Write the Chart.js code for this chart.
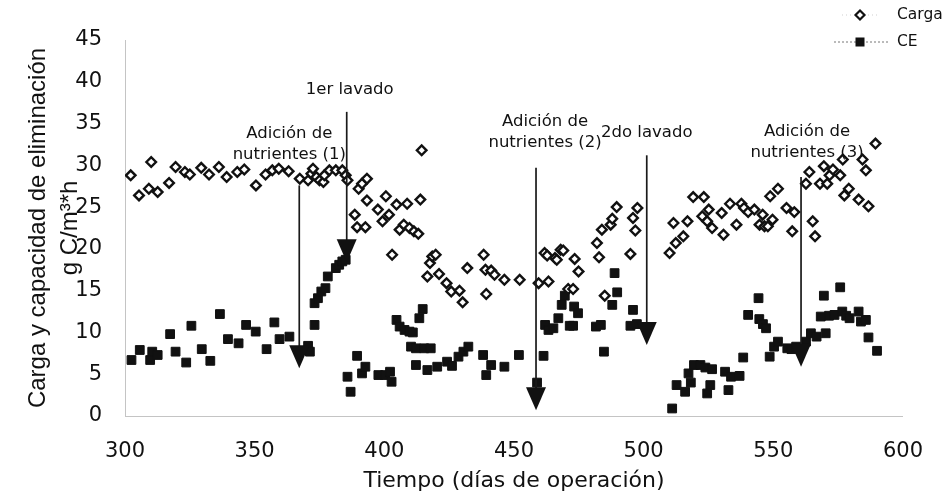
<!DOCTYPE html>
<html lang="es">
<head>
<meta charset="UTF-8">
<title>Carga y capacidad de eliminación</title>
<script src="https://cdn.jsdelivr.net/npm/chart.js@4"></script>
<style>
  html, body { margin: 0; padding: 0; background: #fff; }
  #wrap { width: 946px; height: 495px; }
</style>
</head>
<body>
<div id="wrap"><canvas id="grafico" width="946" height="495"></canvas></div>
<script>
// Carga (g C/m3*h) por día de operación
const cargaDias = [302.2,305.4,309.2,310.1,312.6,317,319.5,323.1,325,329.4,
  332.4,336.2,339.2,343.3,346,350.5,354.2,356.8,359.3,363.1,
  367.4,370.6,371.9,372.5,373.8,375,376.5,376.9,378.8,381.3,
  383.8,385.1,385.8,388.6,389.5,390.1,391.4,392.7,393.3,393.3,
  397.5,399.3,400.6,401.8,403,404.7,405.9,407.5,408.8,409.7,
  411.4,413.1,413.9,414.4,416.6,417.6,418.5,419.8,421.1,424,
  425.8,429,430.2,432,438.3,439,439.3,441.2,442.5,446.3,
  452.2,459.5,461.8,462.8,463.3,465.8,466.5,468,469,470.9,
  472.8,473.4,474.9,482,482.8,483.9,485,487.3,487.9,489.6,
  494.9,495.9,496.8,497.6,510,511.5,512.4,515.3,516.9,519.1,
  522.6,523.2,524.5,525.1,526.4,530.1,530.8,533.3,535.8,537.7,
  538.7,540.3,542.7,544.7,545.9,546.6,547.9,548.8,549.7,551.8,
  555.1,557.3,558.1,562.6,563.9,565.2,566.1,568,569.5,570.8,
  571.7,573,575.8,576.8,577.4,579.1,582.9,584.4,585.7,586.7,
  589.4];
const cargaValores = [28.8,26.4,27.2,30.4,26.8,27.9,29.8,29.2,28.9,29.7,
  28.9,29.8,28.6,29.2,29.5,27.6,28.9,29.4,29.6,29.3,
  28.4,28.2,29.0,29.6,28.6,28.2,28.0,28.8,29.4,29.4,
  29.4,28.8,28.2,24.1,22.6,27.2,27.8,22.6,28.4,25.8,
  24.7,23.3,26.3,24.1,19.3,25.3,22.3,22.9,25.4,22.5,
  22.1,21.8,25.9,31.8,16.7,18.3,19.1,19.3,17.0,15.9,
  14.9,15.0,13.6,17.7,19.3,17.5,14.6,17.4,16.9,16.3,
  16.3,15.9,19.5,19.2,16.1,18.9,18.7,19.9,19.8,15.2,
  15.2,18.8,17.3,20.7,19.0,22.3,14.4,22.9,23.6,25.0,
  19.4,23.7,22.2,24.9,19.5,23.1,20.7,21.5,23.3,26.2,
  23.9,26.2,23.3,24.7,22.5,24.3,21.7,25.4,22.9,25.4,
  24.9,24.4,24.7,22.9,24.1,22.7,22.7,26.3,23.5,27.2,
  24.9,22.1,24.4,27.8,29.2,23.3,21.5,27.8,29.9,27.8,
  28.8,29.5,28.8,30.7,26.4,27.2,25.9,30.7,29.4,25.1,
  32.6];

// Capacidad de eliminación (CE)
const ceDias = [302.5,305.7,309.7,310.5,312.6,317.4,319.5,323.6,325.6,329.6,
  332.9,336.6,339.7,343.8,346.7,350.4,354.6,357.6,359.6,363.4,
  370.6,371.3,373.1,373.1,374.4,375.7,377.3,378.2,381.3,382.6,
  383.8,385.1,385.8,387,389.5,391.4,392.7,397.7,400.3,402.2,
  402.8,404.7,405.9,407.8,409.7,410.3,411,412.2,412.2,413.5,
  414.8,415.4,416.6,417.9,420.4,424.2,426.1,428.6,430.5,432.4,
  438.1,439.3,441.2,446.3,451.9,458.9,461.4,462,463.3,465.2,
  467.1,468.4,469.6,471.5,472.8,473.2,474.7,481.6,483.5,484.7,
  487.9,488.8,489.8,494.9,495.9,497.4,511,512.7,516,517.3,
  518.2,519.4,521.9,523.8,524.5,525.7,526.4,531.4,532.7,533.7,
  537,538.4,540.3,544.3,544.6,546,547.2,548.6,550.3,551.8,
  555.4,557,558.8,562.6,564.5,566.7,568.3,569.5,570.2,571.5,
  573.6,575.8,576.6,578.1,579.4,582.9,583.8,585.7,586.7,590];
const ceValores = [6.7,7.9,6.7,7.7,7.3,9.8,7.7,6.4,10.8,8.0,
  6.6,12.2,9.2,8.7,10.9,10.1,8.0,11.2,9.2,9.5,
  8.4,7.7,10.9,13.5,14.1,14.9,15.3,16.7,17.7,18.1,
  18.5,18.7,4.7,2.9,7.2,5.1,5.9,4.9,4.9,5.3,
  4.1,11.5,10.7,10.3,10.1,8.3,10.0,8.1,6.1,11.7,
  12.8,8.1,5.5,8.1,5.9,6.5,6.0,7.1,7.7,8.3,
  7.3,4.9,6.1,5.9,7.3,4.0,7.2,10.9,10.3,10.5,
  11.7,13.3,14.4,10.8,10.8,13.1,12.3,10.7,10.9,7.7,
  13.3,17.1,14.8,10.8,12.7,11.0,0.9,3.7,2.9,5.1,
  4.0,6.1,6.1,5.8,2.7,3.7,5.6,5.3,3.1,4.7,
  4.8,7.0,12.1,14.1,11.6,11.0,10.5,7.1,8.3,8.9,
  8.1,8.0,8.3,8.9,9.9,9.5,11.9,14.4,9.9,12.0,
  12.1,15.4,12.5,12.0,11.7,12.5,11.3,11.5,9.4,7.8];

// eventos marcados con flecha: día, valor de inicio y de la punta
const eventoTextos = [['Adición de', 'nutrientes (1)'], ['1er lavado'],
  ['Adición de', 'nutrientes (2)'], ['2do lavado'], ['Adición de', 'nutrientes (3)']];
const eventoDias = [367.2, 385.5, 458.5, 501.2, 560.7];
const eventoDesde = [27.6, 36.4, 29.7, 31.2, 28.6];
const eventoHasta = [5.7, 18.4, 0.7, 8.5, 5.9];

const TXT = 'DejaVu Sans';

const flechas = {
  id: 'flechas',
  afterDatasetsDraw(chart) {
    const { ctx, scales: { x, y } } = chart;
    // desplazamiento del texto respecto al extremo superior de la flecha (px)
    const dx = [-10, 3, 9, 0, 6];
    const dy = [-31, -22, -25, -23, -24];
    ctx.save();
    eventoDias.forEach((d, i) => {
      const px = x.getPixelForValue(d);
      const top = y.getPixelForValue(eventoDesde[i]);
      const tip = y.getPixelForValue(eventoHasta[i]);
      ctx.strokeStyle = '#1a1a1a';
      ctx.lineWidth = 1.7;
      ctx.beginPath();
      ctx.moveTo(px, top);
      ctx.lineTo(px, tip - 18);
      ctx.stroke();
      ctx.fillStyle = '#111';
      ctx.beginPath();
      ctx.moveTo(px - 10, tip - 23);
      ctx.lineTo(px + 10, tip - 23);
      ctx.lineTo(px, tip);
      ctx.closePath();
      ctx.fill();

      const lineas = eventoTextos[i];
      ctx.font = '16.5px "' + TXT + '"';
      ctx.textAlign = 'center';
      ctx.textBaseline = 'middle';
      lineas.forEach((t, k) => {
        const off = (lineas.length - 1 - k) * 21;
        ctx.fillText(t, px + dx[i], top + dy[i] - off);
      });
    });
    ctx.restore();
  }
};

const leyenda = {
  id: 'leyenda',
  afterDraw(chart) {
    const ctx = chart.ctx;
    ctx.save();
    // Carga
    ctx.strokeStyle = '#cfcfcf';
    ctx.lineWidth = 1;
    ctx.setLineDash([1, 3]);
    ctx.beginPath();
    ctx.moveTo(842, 15); ctx.lineTo(853, 15);
    ctx.moveTo(868, 15); ctx.lineTo(880, 15);
    ctx.stroke();
    ctx.setLineDash([]);
    ctx.strokeStyle = '#111';
    ctx.fillStyle = '#fff';
    ctx.lineWidth = 2.2;
    ctx.beginPath();
    ctx.moveTo(860, 10.5); ctx.lineTo(864.5, 15); ctx.lineTo(860, 19.5); ctx.lineTo(855.5, 15);
    ctx.closePath();
    ctx.fill(); ctx.stroke();
    // CE
    ctx.strokeStyle = '#777';
    ctx.lineWidth = 1;
    ctx.setLineDash([2, 2]);
    ctx.beginPath();
    ctx.moveTo(834, 42); ctx.lineTo(888, 42);
    ctx.stroke();
    ctx.setLineDash([]);
    ctx.fillStyle = '#111';
    ctx.fillRect(855.5, 37.5, 9, 9);

    ctx.fillStyle = '#111';
    ctx.font = '15.5px "' + TXT + '"';
    ctx.textAlign = 'left';
    ctx.textBaseline = 'middle';
    ctx.fillText('Carga', 897, 15);
    ctx.fillText('CE', 897, 42);
    ctx.restore();
  }
};

const puntos = (xs, ys) => xs.map((d, i) => ({ x: d, y: ys[i] }));

new Chart(document.getElementById('grafico'), {
  type: 'scatter',
  data: {
    datasets: [
      {
        label: 'Carga',
        data: puntos(cargaDias, cargaValores),
        pointStyle: 'rectRot',
        pointRadius: 4.8,
        borderWidth: 2.4,
        borderColor: '#111',
        backgroundColor: '#fff'
      },
      {
        label: 'CE',
        data: puntos(ceDias, ceValores),
        pointStyle: 'rect',
        pointRadius: 6.2,
        borderWidth: 1,
        borderColor: '#111',
        backgroundColor: '#111'
      }
    ]
  },
  options: {
    responsive: false,
    animation: false,
    layout: { padding: { top: 40, right: 28, left: 0, bottom: 0 } },
    plugins: { legend: { display: false }, tooltip: { enabled: false } },
    scales: {
      x: {
        type: 'linear',
        min: 300, max: 600,
        afterFit: s => { s.height = 79; },
        grid: { display: false, drawTicks: false },
        border: { display: true, color: '#c4c4c4', dash: [2, 6] },
        ticks: { stepSize: 50, padding: 23, color: '#111', font: { family: TXT, size: 21 } },
        title: {
          display: true,
          text: 'Tiempo (días de operación)',
          color: '#111',
          font: { family: TXT, size: 22 },
          padding: { top: 0, bottom: 1 }
        }
      },
      y: {
        min: 0, max: 45,
        afterFit: s => { s.width = 125; },
        grid: { display: false, drawTicks: false },
        border: { display: true, color: '#c4c4c4', dash: [2, 6] },
        ticks: { stepSize: 5, padding: 23, color: '#111', font: { family: TXT, size: 21 } },
        title: {
          display: true,
          text: ['Carga y capacidad de eliminación', 'g C/m³*h'],
          color: '#111',
          font: { family: 'Liberation Sans', size: 24, lineHeight: 1.33 },
          padding: { top: 22, bottom: 0 }
        }
      }
    }
  },
  plugins: [flechas, leyenda]
});
</script>
</body>
</html>
